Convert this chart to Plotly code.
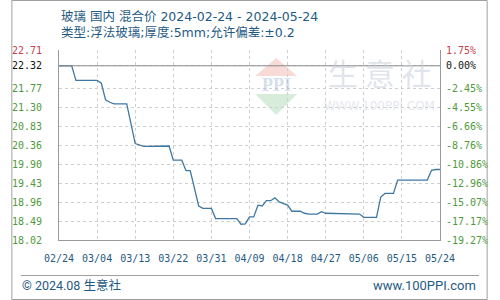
import plotly.graph_objects as go

# ---- data ----
dates = ["2024-02-24", "2024-02-27", "2024-02-28", "2024-03-04", "2024-03-05", "2024-03-06",
         "2024-03-07", "2024-03-08", "2024-03-11", "2024-03-13", "2024-03-15", "2024-03-21",
         "2024-03-22", "2024-03-24", "2024-03-25", "2024-03-26", "2024-03-28", "2024-03-29",
         "2024-03-31", "2024-04-01", "2024-04-06", "2024-04-07", "2024-04-08", "2024-04-09",
         "2024-04-10", "2024-04-11", "2024-04-12", "2024-04-13", "2024-04-14", "2024-04-15",
         "2024-04-16", "2024-04-18", "2024-04-19", "2024-04-21", "2024-04-22", "2024-04-23",
         "2024-04-25", "2024-04-26", "2024-04-27", "2024-05-05", "2024-05-06", "2024-05-09",
         "2024-05-10", "2024-05-11", "2024-05-13", "2024-05-14", "2024-05-21", "2024-05-22",
         "2024-05-23", "2024-05-24"]
prices = [22.32, 22.32, 21.96, 21.96, 21.89, 21.48,
          21.42, 21.38, 21.38, 20.40, 20.33, 20.34,
          19.99, 19.99, 19.73, 19.73, 18.86, 18.80,
          18.80, 18.55, 18.55, 18.41, 18.42, 18.59,
          18.59, 18.88, 18.86, 18.99, 18.99, 19.06,
          18.96, 18.88, 18.73, 18.73, 18.68, 18.66,
          18.66, 18.72, 18.68, 18.66, 18.58, 18.58,
          19.08, 19.17, 19.17, 19.50, 19.50, 19.74,
          19.76, 19.76]

base_price = 22.32
y_tick_vals = [18.02, 18.489, 18.958, 19.427, 19.896, 20.365, 20.834, 21.303, 21.772, 22.32, 22.71]
y_tick_left = ["18.02", "18.49", "18.96", "19.43", "19.90", "20.36", "20.83", "21.30", "21.77", "22.32", "22.71"]
y_tick_right = ["-19.27%", "-17.17%", "-15.07%", "-12.96%", "-10.86%", "-8.76%", "-6.66%", "-4.55%",
                "-2.45%", "0.00%", "1.75%"]
y_min, y_max = 18.02, 22.71
title1 = "玻璃 国内 混合价 2024-02-24 - 2024-05-24"
title2 = "类型:浮法玻璃;厚度:5mm;允许偏差:±0.2"
footer_left = "© 2024.08 生意社"
footer_right = "www.100PPI.com"

GREEN = "#4f9a3c"
RED = "#c8414b"
BLACK = "#111111"
BLUE = "#1f5a82"


def colored(labels):
    out = []
    for i, t in enumerate(labels):
        c = GREEN
        if i == len(labels) - 1:
            c = RED
        elif i == len(labels) - 2:
            c = BLACK
        out.append(f"<span style='color:{c}'>{t}</span>")
    return out


W, H = 500, 300
L, R, T, B = 50, 50, 50, 60
pw, ph = W - L - R, H - T - B


def px(x):
    return (x - L) / pw


def py(y):
    return (H - B - y) / ph


fig = go.Figure()
fig.add_trace(go.Scatter(x=dates, y=prices, mode="lines",
                         line=dict(color="#3f78a3", width=1.3), hoverinfo="skip"))
fig.add_trace(go.Scatter(x=dates, y=prices, mode="lines", yaxis="y2",
                         line=dict(color="rgba(0,0,0,0)", width=0), hoverinfo="skip"))

mono = "DejaVu Sans Mono"
fig.update_layout(
    width=W, height=H, margin=dict(l=L, r=R, t=T, b=B),
    paper_bgcolor="white", plot_bgcolor="white", showlegend=False,
    xaxis=dict(type="date", range=["2024-02-24", "2024-05-24"], tick0="2024-02-24",
               dtick=9 * 86400000, tickformat="%m/%d", showgrid=True, gridcolor="#cfcfcf",
               griddash="dot", gridwidth=1, showline=True, linecolor="#999999", linewidth=1,
               ticks="", ticklabelstandoff=9, zeroline=False,
               tickfont=dict(family=mono, size=10, color=BLUE)),
    yaxis=dict(range=[y_min, y_max], tickvals=y_tick_vals, ticktext=colored(y_tick_left),
               showgrid=True, gridcolor="#cfcfcf", griddash="dot", gridwidth=1,
               showline=True, linecolor="#999999", linewidth=1, zeroline=False,
               ticks="", ticklabelstandoff=14, tickfont=dict(family=mono, size=10)),
    yaxis2=dict(range=[y_min, y_max], tickvals=y_tick_vals, ticktext=colored(y_tick_right),
                overlaying="y", side="right", showgrid=False, showline=True,
                linecolor="#999999", linewidth=1, zeroline=False, ticks="",
                ticklabelstandoff=3, tickfont=dict(family=mono, size=10)),
)

fig.add_hline(y=base_price, line=dict(color="#8a8a8a", width=1))

cjk = "Noto Sans CJK SC"
ann = [
    dict(text=title1 + "<br>" + title2, x=px(50), y=py(24.5), xanchor="left", yanchor="middle",
         align="left", font=dict(family="DejaVu Sans, " + cjk, size=12.5, color=BLUE)),
    dict(text=footer_left, x=px(9), y=py(285), xanchor="left", yanchor="middle",
         font=dict(family="Roboto, " + cjk, size=12.5, color=BLUE)),
    dict(text=footer_right, x=px(490), y=py(285), xanchor="right", yanchor="middle",
         font=dict(family="Roboto", size=13, color=BLUE)),
    dict(text="生 意 社", x=px(387), y=py(72), xanchor="center", yanchor="middle",
         font=dict(family=cjk, size=30, color="rgba(200,206,218,0.55)")),
    dict(text="WWW.100PPI.COM", x=px(387), y=py(106), xanchor="center", yanchor="middle",
         font=dict(family="DejaVu Sans", size=12, color="rgba(205,210,222,0.55)")),
    dict(text="<b>PPI</b>", x=px(278), y=py(85), xanchor="center", yanchor="middle",
         font=dict(family="Liberation Serif", size=18, color="rgba(160,180,215,0.45)")),
]
for a in ann:
    a.update(xref="paper", yref="paper", showarrow=False)
fig.update_layout(annotations=ann)

# watermark logo pieces + footer rule + outer border
fig.add_shape(type="path", xref="paper", yref="paper",
              path=f"M {px(278)} {py(58)} L {px(300)} {py(76)} L {px(256)} {py(76)} Z",
              fillcolor="rgba(235,150,140,0.35)", line=dict(width=0), layer="below")
fig.add_shape(type="path", xref="paper", yref="paper",
              path=f"M {px(256)} {py(94)} L {px(300)} {py(94)} L {px(278)} {py(115)} Z",
              fillcolor="rgba(140,200,150,0.35)", line=dict(width=0), layer="below")
fig.add_shape(type="line", xref="paper", yref="paper", x0=px(10), x1=px(491), y0=py(275.5), y1=py(275.5),
              line=dict(color="#a0a0a0", width=1))
fig.add_shape(type="rect", xref="paper", yref="paper", x0=px(0.5), x1=px(499.5), y0=py(299.5), y1=py(0.5),
              line=dict(color="#a0a0a0", width=1))

fig.write_html("out.html")
